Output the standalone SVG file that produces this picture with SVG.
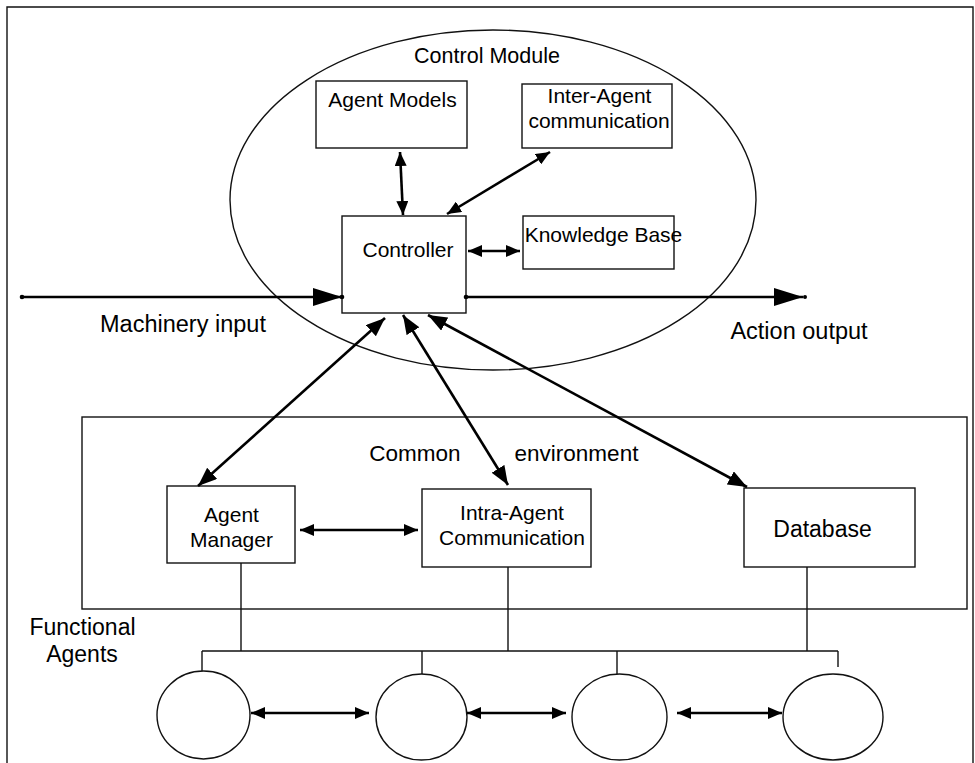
<svg xmlns="http://www.w3.org/2000/svg" width="975" height="763" viewBox="0 0 975 763">
  <style>
    .box { fill: #fff; stroke: #111; stroke-width: 1.4; }
    .thin { fill: none; stroke: #111; stroke-width: 1.4; }
    .conn { fill: none; stroke: #000; stroke-width: 2.6; }
    .dot { fill: #000; }
    text { font-family: "Liberation Sans", Arial, sans-serif; fill: #000; text-anchor: middle; }
    .t21 { font-size: 21px; }
    .t23 { font-size: 23px; }
  </style>
  <defs>
    <marker id="ah" markerUnits="userSpaceOnUse" markerWidth="14" markerHeight="12" refX="14" refY="6" orient="auto-start-reverse">
      <path d="M0,0 L14,6 L0,12 Z" fill="#000"/>
    </marker>
    <marker id="ahL" markerUnits="userSpaceOnUse" markerWidth="19" markerHeight="15" refX="19" refY="7.5" orient="auto-start-reverse">
      <path d="M0,0 L19,7.5 L0,15 Z" fill="#000"/>
    </marker>
    <marker id="ahXL" markerUnits="userSpaceOnUse" markerWidth="29" markerHeight="18" refX="29" refY="9" orient="auto">
      <path d="M0,0 L29,9 L0,18 Z" fill="#000"/>
    </marker>
  </defs>

  <rect width="975" height="763" fill="#fff"/>

  <!-- outer frame (open at the bottom) -->
  <path class="thin" d="M7,763 L7,7 L973,7 L973,763"/>

  <!-- Control module -->
  <g id="control-module">
    <ellipse class="thin" cx="493" cy="200" rx="263" ry="170"/>
    <text class="t21" x="487" y="63" style="font-size:21.5px">Control Module</text>
  </g>

  <g id="agent-models">
    <rect class="box" x="316" y="81" width="151" height="67"/>
    <text class="t21" x="392.5" y="107">Agent Models</text>
  </g>

  <g id="inter-agent">
    <rect class="box" x="522" y="84" width="150" height="64"/>
    <text class="t21" x="599.5" y="103">Inter-Agent</text>
    <text class="t21" x="599" y="128">communication</text>
  </g>

  <g id="controller">
    <rect class="box" x="342" y="216" width="124" height="97"/>
    <text class="t21" x="408" y="257">Controller</text>
  </g>

  <g id="knowledge-base">
    <rect class="box" x="523" y="216" width="151" height="53"/>
    <text class="t21" x="603.5" y="242">Knowledge Base</text>
  </g>

  <!-- Common environment -->
  <g id="common-environment">
    <rect class="box" x="82" y="417" width="885" height="192" style="fill:none"/>
    <text class="t23" x="415" y="461" style="font-size:22.5px">Common</text>
    <text class="t23" x="576.5" y="461" style="font-size:22.5px">environment</text>
  </g>

  <g id="agent-manager">
    <rect class="box" x="167" y="486" width="128" height="77"/>
    <text class="t21" x="231.5" y="522">Agent</text>
    <text class="t21" x="231.5" y="547">Manager</text>
  </g>

  <g id="intra-agent">
    <rect class="box" x="422" y="489" width="169" height="78"/>
    <text class="t21" x="512" y="520">Intra-Agent</text>
    <text class="t21" x="512" y="545">Communication</text>
  </g>

  <g id="database">
    <rect class="box" x="744" y="488" width="171" height="79"/>
    <text class="t23" x="822.5" y="537">Database</text>
  </g>

  <!-- Functional agents -->
  <g id="functional-label">
    <text class="t23" x="82.5" y="635">Functional</text>
    <text class="t23" x="82" y="662">Agents</text>
  </g>
  <g id="agent-1"><ellipse class="thin" cx="203.5" cy="715" rx="46.5" ry="44"/></g>
  <g id="agent-2"><ellipse class="thin" cx="421.5" cy="717" rx="45.5" ry="43"/></g>
  <g id="agent-3"><ellipse class="thin" cx="619.5" cy="717" rx="47.5" ry="43"/></g>
  <g id="agent-4"><ellipse class="thin" cx="833" cy="717" rx="50" ry="43"/></g>

  <!-- Input / output labels -->
  <g id="io-labels">
    <text class="t23" x="183" y="332" style="font-size:23.5px">Machinery input</text>
    <text class="t23" x="799" y="339" style="font-size:23.5px">Action output</text>
  </g>

  <!-- Connectors -->
  <g id="connectors">
    <!-- inside the control module -->
    <line class="conn" x1="400" y1="152" x2="403" y2="215" marker-start="url(#ah)" marker-end="url(#ah)"/>
    <line class="conn" x1="550" y1="152" x2="447" y2="214" marker-start="url(#ah)" marker-end="url(#ah)"/>
    <line class="conn" x1="468" y1="251" x2="520" y2="251" marker-start="url(#ah)" marker-end="url(#ah)"/>

    <!-- machinery input / action output -->
    <line class="conn" x1="22" y1="297" x2="342" y2="297" stroke-width="2.2" marker-end="url(#ahXL)"/>
    <circle class="dot" cx="22" cy="297" r="2.3"/>
    <circle class="dot" cx="342" cy="297" r="2.3"/>
    <line class="conn" x1="466" y1="297" x2="803" y2="297" stroke-width="2.2" marker-end="url(#ahXL)"/>
    <circle class="dot" cx="466" cy="297" r="2.3"/>
    <circle class="dot" cx="805" cy="297" r="2"/>

    <!-- controller to common environment -->
    <line class="conn" x1="385" y1="318" x2="198" y2="486" marker-start="url(#ahL)" marker-end="url(#ahL)"/>
    <line class="conn" x1="403" y1="315" x2="508" y2="485" marker-start="url(#ahL)" marker-end="url(#ahL)"/>
    <line class="conn" x1="428" y1="315" x2="747" y2="487" marker-start="url(#ahL)" marker-end="url(#ahL)"/>

    <!-- within common environment -->
    <line class="conn" x1="300" y1="530" x2="418" y2="530" marker-start="url(#ah)" marker-end="url(#ah)"/>

    <!-- tree down to functional agents -->
    <path class="thin" d="M241,563 L241,651 M508,567 L508,651 M807,567 L807,651 M202,651 L838,651 M202,651 L202,671 M422,651 L422,674 M617,651 L617,674 M838,651 L838,667"/>

    <!-- between functional agents -->
    <line class="conn" x1="251" y1="713" x2="369" y2="713" marker-start="url(#ah)" marker-end="url(#ah)"/>
    <line class="conn" x1="467" y1="713" x2="566" y2="713" marker-start="url(#ah)" marker-end="url(#ah)"/>
    <line class="conn" x1="677" y1="713" x2="782" y2="713" marker-start="url(#ah)" marker-end="url(#ah)"/>
  </g>
</svg>
